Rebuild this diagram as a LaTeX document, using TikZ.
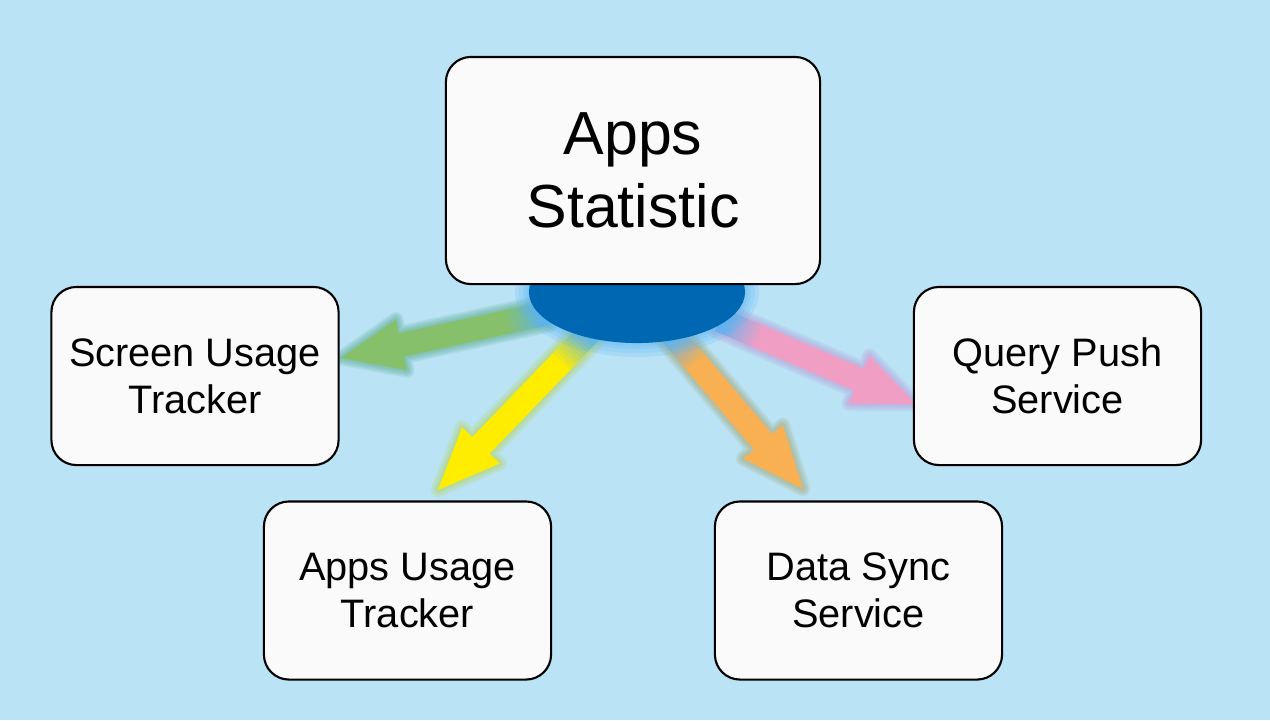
\documentclass[tikz,border=0pt]{standalone}
\usepackage{fontspec}
\setmainfont{Liberation Sans}
\usetikzlibrary{calc,shapes.geometric}
\definecolor{bgcol}{RGB}{186,227,245}
\definecolor{boxfill}{RGB}{250,250,250}
\definecolor{hubcol}{RGB}{0,104,179}
\definecolor{halocol}{RGB}{90,180,245}
\definecolor{tailblue}{RGB}{95,180,240}
\definecolor{agreen}{RGB}{135,192,106}
\definecolor{ggreen}{RGB}{70,160,120}
\definecolor{ayellow}{RGB}{255,237,0}
\definecolor{gyellow}{RGB}{180,210,60}
\definecolor{aorange}{RGB}{248,176,82}
\definecolor{gorange}{RGB}{160,155,90}
\definecolor{apink}{RGB}{241,158,196}
\definecolor{gpink}{RGB}{185,140,210}
\tikzset{
  box/.style={draw=black, line width=0.6pt, fill=boxfill, rounded corners=0.25cm,
    align=center, inner sep=0pt, font=\fontsize{11.3}{13.3}\selectfont,
    minimum width=2.87cm, minimum height=1.78cm},
  mainbox/.style={box, minimum width=3.74cm, minimum height=2.27cm,
    font=\fontsize{17.3}{20.7}\selectfont},
  hubshape/.style={ellipse, fill=hubcol, inner sep=0pt, minimum width=2.16cm, minimum height=1.02cm},
}
\newcommand\fatarrow[3]{%
  \coordinate (#1H) at ($(#1B)!17.6pt!(#1A)$);
  \coordinate (#1tl) at ($(#1A)!3.4pt!90:(#1B)$);
  \coordinate (#1tr) at ($(#1A)!3.4pt!-90:(#1B)$);
  \coordinate (#1hl) at ($(#1H)!3.4pt!90:(#1B)$);
  \coordinate (#1hr) at ($(#1H)!3.4pt!-90:(#1B)$);
  \coordinate (#1wl) at ($(#1H)!7.4pt!90:(#1B)$);
  \coordinate (#1wr) at ($(#1H)!7.4pt!-90:(#1B)$);
  \foreach \w in {4.2,3.2,2.2,1.2}{
    \draw[draw=#3, draw opacity=0.14, line width=\w pt, line join=round]
      (#1tl) -- (#1hl) -- (#1wl) -- (#1B) -- (#1wr) -- (#1hr) -- (#1tr) -- cycle;}
  \foreach \w in {4.2,3.2,2.2,1.2}{
    \draw[draw=tailblue, draw opacity=0.2, line width=\w pt, line cap=round]
      (#1A) -- ($(#1A)!0.22!(#1H)$);}
  \fill[#2] (#1tl) -- (#1hl) -- (#1wl) -- (#1B) -- (#1wr) -- (#1hr) -- (#1tr) -- cycle;
  \foreach \i in {0,...,11}{
    \pgfmathsetmacro\ta{\i*0.025}
    \pgfmathsetmacro\tb{(\i+1)*0.025+0.006}
    \pgfmathtruncatemacro\pc{\i*100/11}
    \fill[#2!\pc!tailblue] ($(#1tl)!\ta!(#1hl)$) -- ($(#1tl)!\tb!(#1hl)$)
      -- ($(#1tr)!\tb!(#1hr)$) -- ($(#1tr)!\ta!(#1hr)$) -- cycle;}
}
\begin{document}
\begin{tikzpicture}[x=0.01cm, y=-0.01cm]
  \fill[bgcol] (0,0) rectangle (1270,720);
  \useasboundingbox (0,0) rectangle (1270,720);

  \coordinate (hubc) at (637,292);
  % arrow ends
  \coordinate (gA) at (548,313);  \coordinate (gB) at (341,358);
  \coordinate (yA) at (592,330);  \coordinate (yB) at (438,490);
  \coordinate (oA) at (670,332);  \coordinate (oB) at (803,489);
  \coordinate (pA) at (720,320);  \coordinate (pB) at (916,404);

  \fatarrow{g}{agreen}{ggreen}
  \fatarrow{y}{ayellow}{gyellow}
  \fatarrow{o}{aorange}{gorange}
  \fatarrow{p}{apink}{gpink}

  % hub with halo
  \foreach \r in {14,10,6,3}{
    \fill[halocol, opacity=0.18] (hubc) ellipse [x radius=108+\r, y radius=51+\r];}
  \node[hubshape] (hub) at (hubc) {};

  \node[mainbox] (stat) at (633,170.5) {Apps\\Statistic};
  \node[box] (screen) at (195,376) {Screen Usage\\Tracker};
  \node[box] (query) at (1057.5,376) {Query Push\\Service};
  \node[box] (apps) at (407.5,590.5) {Apps Usage\\Tracker};
  \node[box] (sync) at (858.5,590.5) {Data Sync\\Service};
\end{tikzpicture}
\end{document}
